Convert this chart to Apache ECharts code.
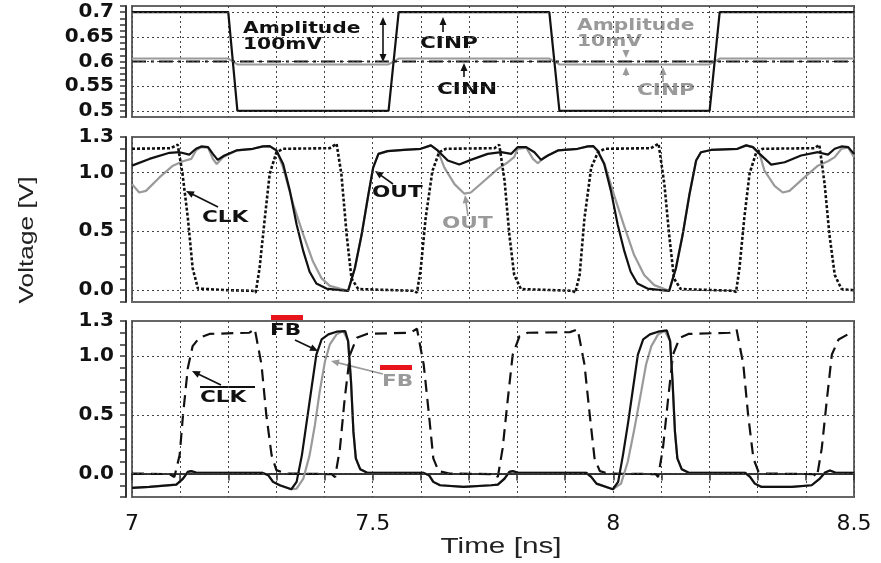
<!DOCTYPE html>
<html>
<head>
<meta charset="utf-8">
<script src="https://cdn.jsdelivr.net/npm/echarts@6/dist/echarts.min.js"></script>
<style>
  html, body { margin: 0; padding: 0; background: #fff; }
  #chart { width: 881px; height: 563px; }
</style>
</head>
<body>
<div id="chart"></div>
<script>
// time range [ns] and tick labels
var timeRange = [7, 8.5];
var timeLabels = ['7', '7.5', '8', '8.5'];
var topLabels = ['0.5', '0.55', '0.6', '0.65', '0.7'];
var voltLabels = ['0.0', '0.5', '1.0', '1.3'];

// panel 1 : comparator inputs
var cinpBig = [[7,0.7],[7.2,0.7],[7.219,0.5],[7.533,0.5],[7.554,0.7],[7.867,0.7],[7.888,0.5],[8.2,0.5],[8.221,0.7],[8.5,0.7]];
var cinpSmall = [[7,0.606],[7.2,0.606],[7.219,0.594],[7.533,0.594],[7.554,0.606],[7.867,0.606],[7.888,0.594],[8.2,0.594],[8.221,0.606],[8.5,0.606]];
var cinn = [[7,0.6],[8.5,0.6]];

// panel 2 : clock and outputs
var clk = [[7,1.2],[7.08,1.205],[7.095,1.234],[7.105,0.986],[7.116,0.614],[7.126,0.186],[7.137,0.014],[7.2,0],[7.251,-0.005],[7.257,-0.02],[7.265,0.186],[7.276,0.614],[7.286,0.986],[7.3,1.17],[7.314,1.2],[7.411,1.205],[7.425,1.243],[7.435,0.986],[7.446,0.47],[7.456,0.1],[7.47,0.01],[7.585,-0.005],[7.592,-0.02],[7.6,0.186],[7.61,0.61],[7.624,1.01],[7.638,1.17],[7.652,1.2],[7.753,1.205],[7.763,1.234],[7.774,0.93],[7.784,0.47],[7.794,0.13],[7.808,0.01],[7.915,-0.005],[7.921,-0.02],[7.93,0.13],[7.94,0.61],[7.954,1.04],[7.968,1.17],[7.982,1.2],[8.078,1.205],[8.094,1.243],[8.106,0.9],[8.116,0.47],[8.126,0.1],[8.14,0.01],[8.25,-0.005],[8.255,-0.015],[8.262,0.186],[8.272,0.61],[8.283,0.99],[8.297,1.17],[8.31,1.2],[8.418,1.205],[8.428,1.234],[8.439,0.9],[8.449,0.47],[8.46,0.13],[8.474,0.01],[8.5,0]];
var outBig = [[7,1.057],[7.036,1.114],[7.078,1.166],[7.099,1.171],[7.119,1.151],[7.133,1.2],[7.144,1.22],[7.158,1.214],[7.168,1.157],[7.178,1.106],[7.192,1.143],[7.217,1.186],[7.251,1.2],[7.272,1.22],[7.286,1.223],[7.3,1.186],[7.314,1.071],[7.328,0.843],[7.342,0.557],[7.356,0.329],[7.369,0.157],[7.383,0.057],[7.404,0.014],[7.432,0],[7.449,-0.006],[7.463,0.186],[7.477,0.47],[7.491,0.81],[7.501,1.04],[7.512,1.157],[7.531,1.18],[7.565,1.19],[7.6,1.2],[7.621,1.229],[7.635,1.186],[7.656,1.1],[7.68,1.066],[7.704,1.106],[7.739,1.157],[7.767,1.171],[7.788,1.157],[7.801,1.214],[7.819,1.214],[7.836,1.171],[7.85,1.106],[7.864,1.143],[7.885,1.186],[7.926,1.2],[7.947,1.22],[7.958,1.223],[7.967,1.186],[7.981,1.071],[7.995,0.843],[8.009,0.557],[8.023,0.329],[8.036,0.157],[8.05,0.057],[8.071,0.014],[8.099,0],[8.116,-0.006],[8.13,0.186],[8.144,0.47],[8.158,0.81],[8.172,1.1],[8.182,1.171],[8.203,1.19],[8.258,1.2],[8.276,1.229],[8.29,1.214],[8.304,1.157],[8.328,1.066],[8.356,1.086],[8.39,1.143],[8.425,1.171],[8.446,1.151],[8.46,1.2],[8.474,1.22],[8.488,1.214],[8.5,1.157]];
var outSmall = [[7,0.9],[7.015,0.829],[7.029,0.843],[7.057,0.957],[7.085,1.057],[7.106,1.094],[7.123,1.114],[7.133,1.186],[7.144,1.214],[7.158,1.21],[7.168,1.114],[7.176,1.071],[7.189,1.129],[7.217,1.186],[7.251,1.2],[7.272,1.22],[7.286,1.223],[7.3,1.186],[7.314,1.04],[7.335,0.729],[7.356,0.47],[7.376,0.243],[7.394,0.1],[7.411,0.037],[7.439,0.006],[7.449,-0.006],[7.463,0.186],[7.477,0.47],[7.491,0.81],[7.501,1.04],[7.512,1.157],[7.531,1.18],[7.565,1.19],[7.6,1.2],[7.621,1.229],[7.635,1.186],[7.649,1.04],[7.67,0.9],[7.69,0.82],[7.704,0.829],[7.732,0.929],[7.76,1.029],[7.781,1.086],[7.794,1.129],[7.801,1.2],[7.819,1.21],[7.833,1.114],[7.843,1.077],[7.857,1.129],[7.885,1.186],[7.926,1.2],[7.947,1.22],[7.958,1.223],[7.967,1.186],[7.981,1.08],[8.002,0.8],[8.022,0.55],[8.043,0.3],[8.064,0.129],[8.085,0.043],[8.109,0.006],[8.116,-0.006],[8.13,0.186],[8.144,0.47],[8.158,0.81],[8.172,1.1],[8.182,1.171],[8.203,1.19],[8.258,1.2],[8.276,1.229],[8.29,1.214],[8.304,1.157],[8.314,1.014],[8.335,0.886],[8.352,0.829],[8.366,0.843],[8.397,0.957],[8.425,1.057],[8.446,1.094],[8.46,1.129],[8.474,1.2],[8.488,1.21],[8.5,1.129]];

// panel 3 : inverted clock and feedback
var clkBar = [[7,0],[7.078,-0.005],[7.088,-0.03],[7.099,0.157],[7.106,0.5],[7.116,0.9],[7.126,1.086],[7.14,1.157],[7.161,1.19],[7.244,1.2],[7.255,1.234],[7.269,0.93],[7.279,0.5],[7.29,0.157],[7.3,0.029],[7.32,0],[7.415,-0.005],[7.422,-0.03],[7.432,0.214],[7.442,0.643],[7.453,1.014],[7.467,1.157],[7.488,1.19],[7.578,1.2],[7.592,1.234],[7.606,0.93],[7.617,0.5],[7.626,0.129],[7.637,0.02],[7.66,0],[7.755,-0.005],[7.76,-0.03],[7.77,0.214],[7.781,0.643],[7.791,1.014],[7.805,1.17],[7.822,1.2],[7.91,1.205],[7.926,1.229],[7.94,0.93],[7.951,0.5],[7.961,0.129],[7.972,0.02],[7.99,0],[8.088,-0.005],[8.093,-0.03],[8.103,0.214],[8.114,0.643],[8.124,1.014],[8.138,1.157],[8.156,1.19],[8.242,1.2],[8.256,1.229],[8.27,0.93],[8.28,0.5],[8.291,0.129],[8.301,0.02],[8.32,0],[8.416,-0.005],[8.423,-0.03],[8.433,0.214],[8.444,0.643],[8.454,1.014],[8.468,1.143],[8.489,1.19],[8.5,1.2]];
var fbBig = [[7,-0.123],[7.036,-0.114],[7.092,-0.094],[7.106,-0.043],[7.116,0.014],[7.123,0.02],[7.133,0.009],[7.272,0.005],[7.283,-0.014],[7.293,-0.071],[7.307,-0.1],[7.331,-0.134],[7.342,-0.071],[7.353,0.157],[7.363,0.443],[7.373,0.729],[7.383,1.014],[7.394,1.143],[7.408,1.186],[7.425,1.209],[7.443,1.214],[7.449,1.129],[7.455,0.786],[7.46,0.357],[7.465,0.129],[7.474,0.037],[7.488,0.009],[7.606,0.005],[7.617,-0.014],[7.626,-0.071],[7.64,-0.1],[7.689,-0.114],[7.746,-0.1],[7.76,-0.094],[7.774,-0.043],[7.784,0.014],[7.791,0.02],[7.801,0.009],[7.944,0.005],[7.954,-0.029],[7.965,-0.086],[7.999,-0.134],[8.01,-0.071],[8.02,0.157],[8.031,0.443],[8.041,0.729],[8.051,1.014],[8.062,1.143],[8.076,1.186],[8.093,1.209],[8.111,1.22],[8.118,1.129],[8.123,0.786],[8.128,0.357],[8.133,0.129],[8.142,0.037],[8.156,0.009],[8.274,0.005],[8.284,-0.029],[8.294,-0.086],[8.308,-0.114],[8.371,-0.114],[8.412,-0.1],[8.429,-0.043],[8.44,0.009],[8.45,0.026],[8.461,0.009],[8.5,0.005]];
var fbSmall = [[7,-0.123],[7.036,-0.114],[7.092,-0.094],[7.106,-0.043],[7.116,0.014],[7.123,0.02],[7.133,0.009],[7.272,0.005],[7.283,-0.014],[7.293,-0.071],[7.307,-0.1],[7.331,-0.134],[7.342,-0.129],[7.356,-0.043],[7.369,0.157],[7.38,0.414],[7.39,0.7],[7.401,0.957],[7.411,1.1],[7.425,1.186],[7.439,1.214],[7.443,1.214],[7.449,1.129],[7.455,0.786],[7.46,0.357],[7.465,0.129],[7.474,0.037],[7.488,0.009],[7.606,0.005],[7.617,-0.014],[7.626,-0.071],[7.64,-0.1],[7.689,-0.114],[7.746,-0.1],[7.76,-0.094],[7.774,-0.043],[7.784,0.014],[7.791,0.02],[7.801,0.009],[7.944,0.005],[7.954,-0.029],[7.965,-0.086],[7.999,-0.134],[8.002,-0.134],[8.016,-0.086],[8.03,0.1],[8.044,0.386],[8.058,0.7],[8.068,0.929],[8.079,1.086],[8.093,1.186],[8.107,1.214],[8.111,1.22],[8.118,1.129],[8.123,0.786],[8.128,0.357],[8.133,0.129],[8.142,0.037],[8.156,0.009],[8.274,0.005],[8.284,-0.029],[8.294,-0.086],[8.308,-0.114],[8.371,-0.114],[8.412,-0.1],[8.429,-0.043],[8.44,0.009],[8.45,0.026],[8.461,0.009],[8.5,0.005]];

var BLACK = '#111', GRAY = '#9a9a9a', GRID = '#444';
var tickFont = 'DejaVu Sans';

function gridMarks(vals) {
  return {
    silent: true, symbol: ['none', 'none'], animation: false,
    label: { show: false },
    lineStyle: { type: [2, 3], color: GRID, width: 1 },
    data: vals.map(function (v) { return { yAxis: Number(v) }; })
  };
}

function xAx(idx, withLabels) {
  return {
    type: 'value', gridIndex: idx, min: timeRange[0], max: timeRange[1], interval: 0.1,
    offset: withLabels ? 6 : 0,
    axisLine: { show: withLabels, lineStyle: { color: '#333', width: 2 } },
    axisTick: { show: withLabels, inside: false, length: 7, lineStyle: { color: '#333', width: 1.5 } },
    axisLabel: {
      show: withLabels, margin: 10, color: '#111', fontFamily: tickFont, fontSize: 22,
      formatter: function (v) {
        var s = String(Math.round(v * 10) / 10);
        return timeLabels.indexOf(s) >= 0 ? s : '';
      }
    },
    splitLine: { show: true, lineStyle: { type: [2, 3], color: GRID, width: 1 } }
  };
}

function yAx(idx, min, max, step, labels) {
  return {
    type: 'value', gridIndex: idx, min: min, max: max, interval: step, offset: 6,
    axisLine: { show: true, lineStyle: { color: '#333', width: 2 } },
    axisTick: { show: true, inside: false, length: 6, lineStyle: { color: '#333', width: 1.5 } },
    axisLabel: {
      margin: 12, color: '#111', fontFamily: tickFont, fontWeight: 'bold', fontSize: 20,
      formatter: function (v) {
        var r = Math.round(v * 1000) / 1000;
        for (var i = 0; i < labels.length; i++) {
          if (Math.abs(Number(labels[i]) - r) < 1e-6) return labels[i];
        }
        return '';
      }
    },
    splitLine: { show: false }
  };
}

function line(name, data, xi, color, width, dash, extra) {
  var s = {
    name: name, type: 'line', xAxisIndex: xi, yAxisIndex: xi, data: data,
    showSymbol: false, symbol: 'none', animation: false, silent: true,
    lineStyle: { color: color, width: width, type: dash || 'solid' }
  };
  if (extra) s.markLine = extra;
  return s;
}

function arrow(x1, y1, x2, y2, color) {
  var a = Math.atan2(y2 - y1, x2 - x1), L = 8, W = 3.5;
  var c = Math.cos(a), s = Math.sin(a);
  return [
    { type: 'line', shape: { x1: x1, y1: y1, x2: x2 - L * 0.7 * c, y2: y2 - L * 0.7 * s }, style: { stroke: color, lineWidth: 1.6 } },
    { type: 'polygon', shape: { points: [[x2, y2], [x2 - L * c + W * s, y2 - L * s - W * c], [x2 - L * c - W * s, y2 - L * s + W * c]] }, style: { fill: color } }
  ];
}

function label(txt, x, y, color, size, sx) {
  return {
    type: 'text', x: x, y: y, scaleX: sx || 1.35,
    style: { text: txt, fill: color, font: 'bold ' + (size || 16) + 'px "DejaVu Sans"', lineHeight: 16, textVerticalAlign: 'top' }
  };
}

var graphics = [].concat(
  // panel 1
  [label('Amplitude\n100mV', 243, 21, BLACK, 15)],
  arrow(383, 40, 383, 17, BLACK), arrow(383, 40, 383, 62, BLACK),
  [label('CINP', 420, 36, BLACK, 16)], arrow(443, 32, 443, 17, BLACK),
  [label('CINN', 437, 82, BLACK, 16)], arrow(464, 77, 464, 63, BLACK),
  [label('Amplitude\n10mV', 577, 18, GRAY, 15)],
  arrow(626, 50, 626, 58, GRAY), arrow(626, 76, 626, 67, GRAY),
  [label('CINP', 637, 83, GRAY, 16)], arrow(663, 82, 663, 67, GRAY),
  // panel 2
  [label('CLK', 202, 210, BLACK, 16)], arrow(218, 207, 186, 191, BLACK),
  [label('OUT', 372, 185, BLACK, 16)], arrow(393, 184, 375, 171, BLACK),
  [label('OUT', 442, 216, GRAY, 16)], arrow(468, 216, 465, 195, GRAY),
  // panel 3
  [label('FB', 270, 323, BLACK, 16)], arrow(295, 340, 318, 351, BLACK),
  [{ type: 'rect', shape: { x: 271, y: 315, width: 32, height: 5 }, style: { fill: '#e8141b' } }],
  [label('CLK', 200, 390, BLACK, 16)],
  [{ type: 'line', shape: { x1: 200, y1: 387, x2: 255, y2: 387 }, style: { stroke: BLACK, lineWidth: 2 } }],
  arrow(221, 385, 192, 371, BLACK),
  [label('FB', 382, 374, GRAY, 16)], arrow(383, 374, 331, 361, GRAY),
  [{ type: 'rect', shape: { x: 380, y: 365, width: 32, height: 5 }, style: { fill: '#e8141b' } }],
  // axis titles
  [{ type: 'text', x: 501, y: 547, scaleX: 1.35, style: { text: 'Time [ns]', fill: '#222', font: '22px "Liberation Sans"', textAlign: 'center', textVerticalAlign: 'middle' } }],
  [{ type: 'text', x: 27, y: 240, rotation: Math.PI / 2, scaleX: 1.25, style: { text: 'Voltage [V]', fill: '#222', font: '21px "Liberation Sans"', textAlign: 'center', textVerticalAlign: 'middle' } }]
);

var chart = echarts.init(document.getElementById('chart'), null, { renderer: 'canvas' });
var frame = { show: true, left: 132, right: 27, borderColor: '#666', borderWidth: 2, backgroundColor: 'transparent' };
chart.setOption({
  animation: false,
  backgroundColor: '#fff',
  grid: [
    Object.assign({ top: 6, height: 111 }, frame),
    Object.assign({ top: 137, height: 165 }, frame),
    Object.assign({ top: 321, height: 176 }, frame)
  ],
  xAxis: [xAx(0, false), xAx(1, false), xAx(2, true)],
  yAxis: [
    yAx(0, 0.4875, 0.7125, 0.0125, topLabels),
    yAx(1, -0.1, 1.3, 0.1, voltLabels),
    yAx(2, -0.2, 1.3, 0.1, voltLabels)
  ],
  series: [
    line('CINP 10mV', cinpSmall, 0, GRAY, 2, 'solid', gridMarks(topLabels)),
    line('CINN', cinn, 0, BLACK, 2, [14, 5, 3, 5]),
    line('CINP 100mV', cinpBig, 0, BLACK, 2.2),
    line('OUT gray', outSmall, 1, GRAY, 2.2, 'solid', gridMarks(['0', '0.5', '1'])),
    line('CLK', clk, 1, BLACK, 2.6, [3, 2]),
    line('OUT', outBig, 1, BLACK, 2.2),
    line('CLKB', clkBar, 2, BLACK, 2.2, [12, 7], gridMarks(['0', '0.5', '1'])),
    line('FB gray', fbSmall, 2, GRAY, 2.2),
    line('FB', fbBig, 2, BLACK, 2.2)
  ],
  graphic: graphics
});
</script>
</body>
</html>
